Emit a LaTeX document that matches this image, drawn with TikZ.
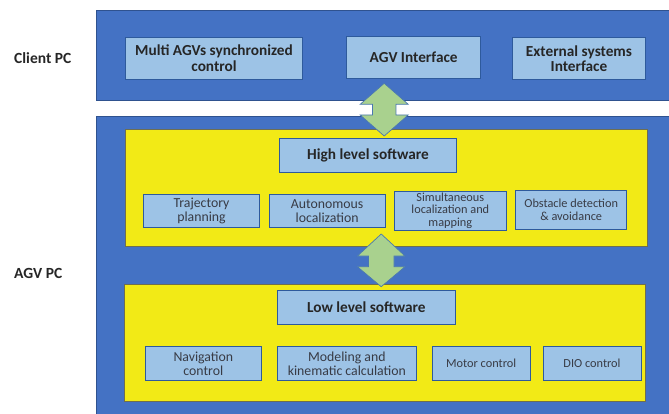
\documentclass[tikz,border=0pt]{standalone}
\usepackage{fontspec}
\setmainfont{Carlito}

\definecolor{pcblue}{HTML}{4472C4}
\definecolor{pcedge}{HTML}{2F528F}
\definecolor{swyellow}{HTML}{F2EA16}
\definecolor{swedge}{HTML}{6E6E50}
\definecolor{cellfill}{HTML}{9DC3E6}
\definecolor{celledge}{HTML}{2E5A9C}
\definecolor{arrowgreen}{HTML}{A9D18E}
\definecolor{arrowedge}{HTML}{4A78B0}
\definecolor{inkdark}{HTML}{262626}
\definecolor{inkgrey}{HTML}{383B45}

\begin{document}
\begin{tikzpicture}[x=1pt,y=-1pt,
  % span={x1}{y1}{x2}{y2}: node covering the rectangle between two corners
  span/.style n args={4}{minimum width={(#3-#1)*1pt}, minimum height={(#4-#2)*1pt},
                         at={({(#1+#3)/2},{(#2+#4)/2})}},
  pcframe/.style={draw=pcedge, fill=pcblue, line width=0.8pt, inner sep=0pt},
  swpanel/.style={draw=swedge, fill=swyellow, line width=0.6pt, inner sep=0pt},
  cell/.style={draw=celledge, fill=cellfill, line width=0.9pt, inner sep=0pt, align=center},
  headcell/.style={cell, text=inkdark, font=\bfseries\fontsize{15.3}{15.5}\selectfont},
  subcell/.style={cell, text=inkgrey, font=\fontsize{13.8}{14}\selectfont},
  smallcell/.style={cell, text=inkgrey, font=\fontsize{12.3}{12.6}\selectfont},
  sidelabel/.style={anchor=base west, text=inkdark, font=\bfseries\fontsize{15.5}{16}\selectfont, inner sep=0pt},
  blockarrow/.style={draw=arrowedge, fill=arrowgreen, line width=0.7pt, line join=miter}
]
\useasboundingbox (0,0) rectangle (669,414);

% side labels
\node[sidelabel] (clientlbl) at (14,63.3) {Client PC};
\node[sidelabel] (agvlbl) at (14,278.3) {AGV PC};

% outer computer frames
\node[pcframe, span={96.5}{10}{669.5}{100.7}] (client) {};
\node[pcframe, span={96.5}{116}{669.5}{415}] (agv) {};

% client PC modules
\node[headcell, span={125.7}{37.3}{302.3}{79.3}] (multi) {Multi AGVs synchronized\\control};
\node[headcell, span={346.7}{36.7}{480.7}{78.3}] (agvif) {AGV Interface};
\node[headcell, span={512.3}{37.7}{645.7}{79.3}] (ext) {External systems\\Interface};

% high level software panel
\node[swpanel, span={125.7}{129.3}{647}{246.7}] (highpanel) {};
\node[headcell, span={279.3}{138.3}{456.7}{172.3}] (high) {High level software};
\node[subcell, span={143.3}{194}{259.7}{227.7}] (traj) {Trajectory\\planning};
\node[subcell, span={269.3}{194}{385}{227.7}] (auto) {Autonomous\\localization};
\node[smallcell, span={394.7}{191}{506}{230}] (slam) {Simultaneous\\localization and\\mapping};
\node[smallcell, span={515.7}{190.3}{626.7}{229.3}] (obst) {Obstacle detection\\\&{} avoidance};

% low level software panel
\node[swpanel, span={124.5}{284}{645}{401.7}] (lowpanel) {};
\node[headcell, span={277.7}{290.7}{455}{324}] (low) {Low level software};
\node[subcell, span={145}{346.7}{261.7}{380.3}] (nav) {Navigation\\control};
\node[subcell, span={277.7}{346.7}{416}{380.3}] (model) {Modeling and\\kinematic calculation};
\node[smallcell, span={432.3}{346.7}{530}{380.3}] (motor) {Motor control};
\node[smallcell, span={543}{346.7}{641}{380.3}] (dio) {DIO control};

% double block arrows between the layers
\coordinate (linkA) at (384.2,83.3);
\coordinate (linkB) at (381.2,234);
\draw[blockarrow] (linkA)
  -- ++(24,21) -- ++(-12.3,0) -- ++(0,10.7) -- ++(12.3,0)
  -- ++(-24,21) -- ++(-24,-21) -- ++(12.3,0) -- ++(0,-10.7)
  -- ++(-12.3,0) -- cycle;
\draw[blockarrow] (linkB)
  -- ++(23.8,22) -- ++(-11,0) -- ++(0,10.7) -- ++(11,0)
  -- ++(-23.8,20) -- ++(-23.8,-20) -- ++(11,0) -- ++(0,-10.7)
  -- ++(-11,0) -- cycle;
\end{tikzpicture}
\end{document}
